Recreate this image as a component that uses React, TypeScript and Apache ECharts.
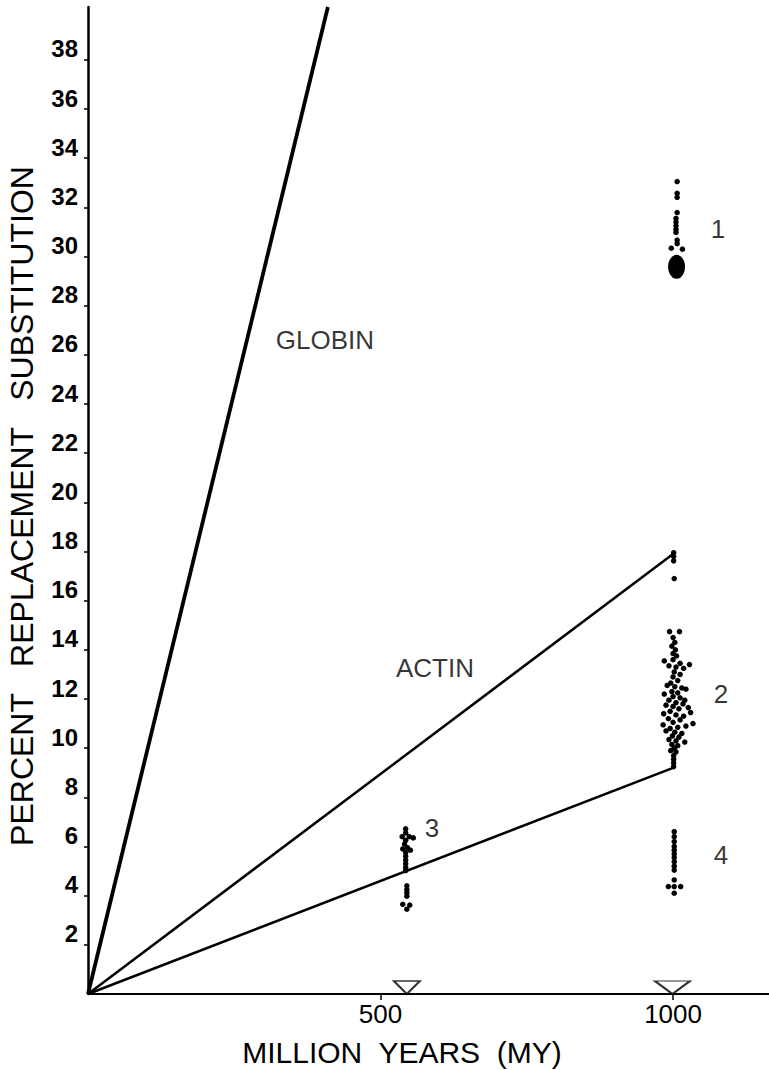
import React, { useEffect, useRef } from "react";
import * as echarts from "echarts";

// ---- axis ticks ----
const yTickValues = [2, 4, 6, 8, 10, 12, 14, 16, 18, 20, 22, 24, 26, 28, 30, 32, 34, 36, 38];
const xTickValues = [500, 1000];

// ---- rate lines (million years, percent) ----
const globinLine = [[0, 0], [410, 40.15]];
const actinLine = [[0, 0], [1000, 17.9]];
const lowerLine = [[0, 0], [1000, 9.2]];

// ---- clusters of observed points ----
const cluster1 = [
  [1007, 33.05], [1007, 32.57], [1007, 32.41], [1007, 31.79], [1005, 31.55], [1005, 31.4],
  [1005, 31.25], [1005, 31.1], [1005, 30.98], [1007, 30.67], [1007, 30.52], [997, 30.34], [1016, 30.3],
];
const cluster1Core = [[1006, 29.58]];
const cluster2 = [
  [1001, 17.95], [1001, 17.8], [1001, 17.62], [1002, 16.9],
  [994, 14.74], [1011, 14.74],
  [1000, 14.5], [1003, 14.3], [998, 14.15], [1004, 14.0], [1000, 13.85], [1006, 13.75],
  [985, 13.55], [1000, 13.6], [1012, 13.45], [1028, 13.4], [993, 13.35], [1005, 13.3], [1018, 13.25],
  [1002, 13.1], [1012, 13.0], [1000, 12.9], [1008, 12.75], [996, 12.65],
  [990, 12.55], [1003, 12.5], [1015, 12.45], [1022, 12.4], [998, 12.3], [1008, 12.25], [985, 12.2],
  [1000, 12.1], [1012, 12.05], [1020, 11.95], [993, 11.95], [1005, 11.85], [1017, 11.8], [988, 11.75],
  [1000, 11.7], [1026, 11.65], [1010, 11.6], [995, 11.5], [1030, 11.45], [984, 11.4], [1005, 11.35], [1018, 11.3],
  [992, 11.2], [1012, 11.15], [1000, 11.05], [1034, 11.0], [983, 10.95], [1022, 10.9], [1008, 10.85], [995, 10.8],
  [988, 10.7], [1003, 10.65], [1015, 10.6], [999, 10.5], [1010, 10.45], [993, 10.35], [1005, 10.3], [1020, 10.25],
  [998, 10.15], [1008, 10.1], [1002, 10.0], [996, 9.9], [1005, 9.85], [1001, 9.7], [1001, 9.55], [1001, 9.4], [1001, 9.25],
];
const cluster3 = [
  [543, 6.72], [543, 6.55], [537, 6.4], [549, 6.4], [556, 6.35], [543, 6.25], [541, 6.1], [546, 5.95],
  [538, 5.9], [551, 5.85], [543, 5.75], [543, 5.6], [543, 5.45], [543, 5.3], [543, 5.15], [543, 5.02],
  [545, 4.4], [545, 4.25], [545, 4.12], [545, 3.98], [538, 3.65], [550, 3.62], [545, 3.45],
];
const cluster4 = [
  [1002, 6.6], [1002, 6.4], [1002, 6.2], [1002, 6.0], [1002, 5.85], [1002, 5.7], [1002, 5.55],
  [1002, 5.38], [1002, 5.2], [1002, 5.04], [1002, 4.64], [992, 4.37], [1002, 4.37], [1013, 4.37], [1002, 4.1],
];

// ---- divergence markers on the time axis ----
const markerTimes = [545, 999];
const markerSizes = [[26, 13], [35, 13]];

// ---- annotations ----
const annotationNames = ["GLOBIN", "ACTIN", "1", "2", "3", "4"];
const annotationX = [405, 593, 1077, 1082, 588, 1082];
const annotationY = [26.6, 13.26, 31.1, 12.2, 6.74, 5.65];

const FONT = "Liberation Sans, Arial, Helvetica, sans-serif";

export default function App() {
  const ref = useRef<HTMLDivElement>(null);
  useEffect(() => {
    document.body.style.margin = "0";
    const chart = echarts.init(ref.current!, undefined, { renderer: "svg" });
    const dot = (data: number[][], size: any) => ({
      type: "scatter",
      data,
      symbol: "circle",
      symbolSize: size,
      itemStyle: { color: "#000", opacity: 1 },
      silent: true,
      z: 4,
    });
    const line = (data: number[][], width: number) => ({
      type: "line",
      data,
      showSymbol: false,
      symbol: "none",
      lineStyle: { color: "#000", width },
      silent: true,
      z: 3,
    });
    chart.setOption({
      animation: false,
      backgroundColor: "#fff",
      grid: { left: 88, right: 0, top: 7, bottom: 76, containLabel: false },
      xAxis: {
        type: "value",
        min: 0,
        max: 1164,
        axisLine: { show: true, onZero: false, lineStyle: { color: "#000", width: 2 } },
        splitLine: { show: false },
        axisTick: { show: true, customValues: xTickValues, length: 6, lineStyle: { color: "#000", width: 1.5 } },
        axisLabel: {
          show: true,
          customValues: xTickValues,
          formatter: (v: number) => String(v),
          color: "#000",
          fontSize: 26,
          fontFamily: FONT,
          margin: 7,
        },
      },
      yAxis: {
        type: "value",
        min: 0,
        max: 40.15,
        axisLine: { show: true, onZero: false, lineStyle: { color: "#000", width: 2.5 } },
        splitLine: { show: false },
        axisTick: { show: true, customValues: yTickValues, length: 4, lineStyle: { color: "#000", width: 1.5 } },
        axisLabel: {
          show: true,
          customValues: yTickValues,
          formatter: (v: number) => String(v),
          color: "#000",
          fontSize: 24,
          fontWeight: "bold",
          fontFamily: FONT,
          margin: 10,
          verticalAlign: "bottom",
          lineHeight: 22,
        },
      },
      series: [
        line(globinLine, 3.8),
        line(actinLine, 2.5),
        line(lowerLine, 2.5),
        dot(cluster1, 5.5),
        dot(cluster1Core, [17, 24]),
        dot(cluster2, 5.5),
        dot(cluster3, 5.5),
        dot(cluster4, 5.5),
        {
          type: "scatter",
          data: markerTimes.map((t, i) => ({ value: [t, 0], symbolSize: markerSizes[i] })),
          symbol: "triangle",
          symbolRotate: 180,
          symbolOffset: [0, -6.5],
          itemStyle: { color: "#fff", borderColor: "#000", borderWidth: 2 },
          silent: true,
          z: 5,
        },
        {
          type: "scatter",
          data: annotationNames.map((n, i) => ({ name: n, value: [annotationX[i], annotationY[i]] })),
          symbolSize: 0,
          silent: true,
          label: {
            show: true,
            position: "inside",
            formatter: "{b}",
            color: "#000",
            fontSize: 26,
            fontFamily: FONT,
          },
          z: 6,
        },
      ],
      graphic: [
        {
          type: "text",
          x: 22,
          y: 506,
          rotation: Math.PI / 2,
          style: {
            text: "PERCENT   REPLACEMENT   SUBSTITUTION",
            fill: "#000",
            font: `32px ${FONT}`,
            align: "center",
            verticalAlign: "middle",
          },
        },
        {
          type: "text",
          x: 402,
          y: 1052,
          style: {
            text: "MILLION  YEARS  (MY)",
            fill: "#000",
            font: `30px ${FONT}`,
            align: "center",
            verticalAlign: "middle",
          },
        },
      ],
    });
    return () => chart.dispose();
  }, []);
  return <div ref={ref} style={{ width: 769, height: 1070, background: "#fff" }} />;
}
